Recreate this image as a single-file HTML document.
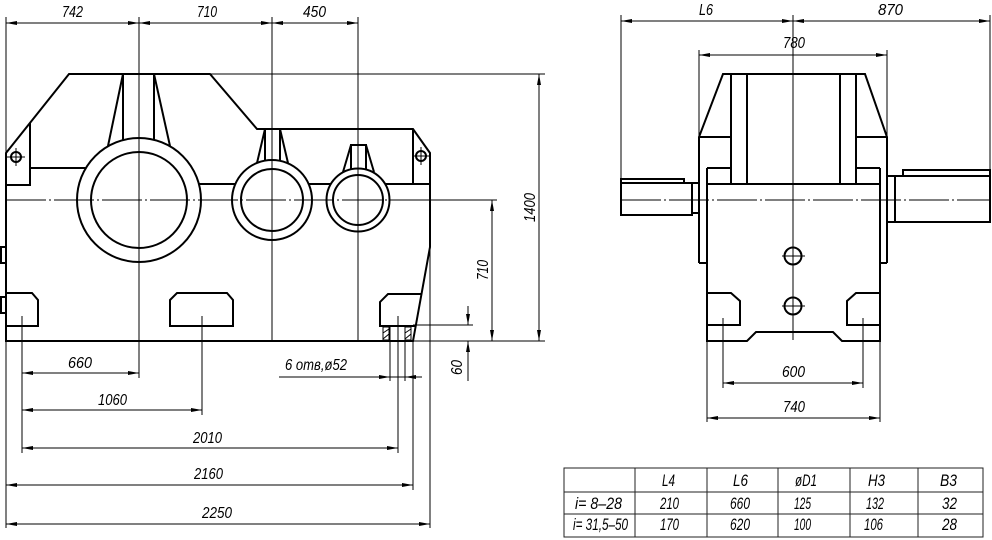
<!DOCTYPE html>
<html><head><meta charset="utf-8"><style>
html,body{margin:0;padding:0;background:#fff;}
svg{display:block;}
text{font-family:"Liberation Sans",sans-serif;font-style:italic;font-size:16px;fill:#000;}
.tb text{font-size:17px;}
</style></head><body>
<svg width="992" height="540" viewBox="0 0 992 540" xmlns="http://www.w3.org/2000/svg">
<defs>
<marker id="a" viewBox="0 0 11 4" refX="11" refY="2" markerWidth="11" markerHeight="4" markerUnits="userSpaceOnUse" orient="auto-start-reverse"><path d="M0,0 L11,2 L0,4 z" fill="#000"/></marker>
</defs>

<!-- ============ LEFT VIEW: thick ============ -->
<g fill="none" stroke="#000" stroke-width="2" stroke-linejoin="miter">
  <path d="M6,153 L69,74 L210,74 L257,129 L413,129 L430,153 L430,247 L413,341 L6,341 Z"/>
  <polyline points="30,123 30,185 6,185"/>
  <line x1="30" y1="168" x2="86" y2="168"/>
  <line x1="413" y1="129" x2="413" y2="184"/>
  <line x1="199" y1="184" x2="235" y2="184"/>
  <line x1="309" y1="184" x2="331" y2="184"/>
  <line x1="385" y1="184" x2="430" y2="184"/>
  <circle cx="139" cy="200" r="62"/>
  <circle cx="139" cy="200" r="48"/>
  <circle cx="272" cy="200" r="40"/>
  <circle cx="272" cy="200" r="31"/>
  <circle cx="358" cy="200" r="31.5"/>
  <circle cx="358" cy="200" r="25"/>
  <line x1="123" y1="74" x2="123" y2="140"/>
  <line x1="154" y1="74" x2="154" y2="140"/>
  <line x1="123" y1="74" x2="108" y2="146"/>
  <line x1="154" y1="74" x2="170" y2="146"/>
  <line x1="265" y1="129" x2="265" y2="161"/>
  <line x1="280" y1="129" x2="280" y2="161"/>
  <line x1="265" y1="129" x2="257" y2="163"/>
  <line x1="280" y1="129" x2="288" y2="163"/>
  <line x1="350" y1="145" x2="367" y2="145"/>
  <line x1="351" y1="145" x2="351" y2="170"/>
  <line x1="366" y1="145" x2="366" y2="170"/>
  <line x1="351" y1="145" x2="343" y2="172"/>
  <line x1="366" y1="145" x2="374" y2="172"/>
  <circle cx="16" cy="157" r="5"/>
  <circle cx="421" cy="156" r="5"/>
  <rect x="1" y="247" width="5" height="16"/>
  <rect x="1" y="297" width="5" height="16"/>
  <polyline points="6,293 32,293 38,300 38,326 6,326"/>
  <polygon points="170,300 177,293 227,293 233,300 233,326 170,326"/>
  <polyline points="421,294 388,294 380,302 380,326 415,326"/>
</g>

<g fill="none" stroke="#000" stroke-width="1">
  <rect x="383" y="327" width="6" height="13"/>
  <rect x="405" y="327" width="6" height="13"/>
  <line x1="383" y1="333" x2="389" y2="329"/>
  <line x1="383" y1="339" x2="389" y2="334"/>
  <line x1="405" y1="333" x2="411" y2="329"/>
  <line x1="405" y1="339" x2="411" y2="334"/>
</g>

<!-- ============ LEFT VIEW: thin ============ -->
<g fill="none" stroke="#000" stroke-width="1">
  <line x1="6" y1="17" x2="6" y2="153"/>
  <line x1="6" y1="341" x2="6" y2="528"/>
  <line x1="139" y1="17" x2="139" y2="378"/>
  <line x1="272" y1="17" x2="272" y2="341"/>
  <line x1="358" y1="17" x2="358" y2="341"/>
  <line x1="210" y1="74" x2="545" y2="74"/>
  <line x1="6" y1="200" x2="430" y2="200" stroke-dasharray="40 3 2 3"/>
  <line x1="430" y1="200" x2="497" y2="200"/>
  <line x1="413" y1="341" x2="545" y2="341"/>
  <line x1="413" y1="325" x2="473" y2="325"/>
  <line x1="22" y1="316" x2="22" y2="453"/>
  <line x1="202" y1="316" x2="202" y2="415"/>
  <line x1="398" y1="316" x2="398" y2="453"/>
  <line x1="390" y1="326" x2="390" y2="381"/>
  <line x1="405" y1="326" x2="405" y2="381"/>
  <line x1="413" y1="341" x2="413" y2="490"/>
  <line x1="430" y1="247" x2="430" y2="528"/>
  <line x1="7" y1="157" x2="25" y2="157"/>
  <line x1="16" y1="148" x2="16" y2="166"/>
  <line x1="412" y1="156" x2="430" y2="156"/>
  <line x1="421" y1="147" x2="421" y2="165"/>
  <line x1="6" y1="23" x2="139" y2="23" marker-start="url(#a)" marker-end="url(#a)"/>
  <line x1="139" y1="23" x2="272" y2="23" marker-start="url(#a)" marker-end="url(#a)"/>
  <line x1="272" y1="23" x2="358" y2="23" marker-start="url(#a)" marker-end="url(#a)"/>
  <line x1="539" y1="74" x2="539" y2="341" marker-start="url(#a)" marker-end="url(#a)"/>
  <line x1="492" y1="200" x2="492" y2="341" marker-start="url(#a)" marker-end="url(#a)"/>
  <line x1="468" y1="306" x2="468" y2="325" marker-end="url(#a)"/>
  <line x1="468" y1="381" x2="468" y2="341" marker-end="url(#a)"/>
  <line x1="22" y1="373" x2="139" y2="373" marker-start="url(#a)" marker-end="url(#a)"/>
  <line x1="22" y1="410" x2="202" y2="410" marker-start="url(#a)" marker-end="url(#a)"/>
  <line x1="22" y1="448" x2="398" y2="448" marker-start="url(#a)" marker-end="url(#a)"/>
  <line x1="6" y1="485" x2="413" y2="485" marker-start="url(#a)" marker-end="url(#a)"/>
  <line x1="6" y1="524" x2="430" y2="524" marker-start="url(#a)" marker-end="url(#a)"/>
  <line x1="279" y1="377" x2="390" y2="377" marker-end="url(#a)"/>
  <line x1="390" y1="377" x2="405" y2="377"/>
  <line x1="422" y1="377" x2="405" y2="377" marker-end="url(#a)"/>
</g>

<!-- ============ RIGHT VIEW: thick ============ -->
<g fill="none" stroke="#000" stroke-width="2">
  <polyline points="699,263 699,137 723,74 865,74 887,137 887,263"/>
  <line x1="699" y1="263" x2="707" y2="263"/>
  <line x1="887" y1="263" x2="880" y2="263"/>
  <line x1="699" y1="137" x2="731" y2="137"/>
  <line x1="856" y1="137" x2="887" y2="137"/>
  <line x1="731" y1="74" x2="731" y2="184"/>
  <line x1="747" y1="74" x2="747" y2="184"/>
  <line x1="840" y1="74" x2="840" y2="184"/>
  <line x1="856" y1="74" x2="856" y2="184"/>
  <line x1="707" y1="168" x2="731" y2="168"/>
  <line x1="856" y1="168" x2="880" y2="168"/>
  <line x1="707" y1="184" x2="880" y2="184"/>
  <polyline points="707,168 707,341 747,341 756,332 833,332 842,341 880,341 880,168"/>
  <rect x="621" y="183" width="71" height="32"/>
  <polyline points="621,183 621,179 684,179 684,183"/>
  <rect x="692" y="183" width="7" height="30"/>
  <rect x="887" y="176" width="8" height="46"/>
  <rect x="895" y="176" width="95" height="46"/>
  <polyline points="903,176 903,170 990,170 990,176"/>
  <circle cx="793" cy="256" r="8.5"/>
  <circle cx="793" cy="306" r="8.5"/>
  <polyline points="707,293 731,293 740,301 740,325 707,325"/>
  <polyline points="880,293 856,293 847,301 847,325 880,325"/>
</g>

<!-- ============ RIGHT VIEW: thin ============ -->
<g fill="none" stroke="#000" stroke-width="1">
  <line x1="621" y1="15" x2="621" y2="179"/>
  <line x1="990" y1="15" x2="990" y2="170"/>
  <line x1="793" y1="15" x2="793" y2="340"/>
  <line x1="699" y1="50" x2="699" y2="137"/>
  <line x1="887" y1="50" x2="887" y2="137"/>
  <line x1="621" y1="200" x2="990" y2="200" stroke-dasharray="40 3 2 3"/>
  <line x1="723" y1="318" x2="723" y2="388"/>
  <line x1="863" y1="318" x2="863" y2="388"/>
  <line x1="707" y1="341" x2="707" y2="422"/>
  <line x1="880" y1="341" x2="880" y2="422"/>
  <line x1="782" y1="256" x2="805" y2="256"/>
  <line x1="782" y1="306" x2="805" y2="306"/>
  <line x1="621" y1="21" x2="793" y2="21" marker-start="url(#a)" marker-end="url(#a)"/>
  <line x1="793" y1="21" x2="990" y2="21" marker-start="url(#a)" marker-end="url(#a)"/>
  <line x1="699" y1="55" x2="887" y2="55" marker-start="url(#a)" marker-end="url(#a)"/>
  <line x1="723" y1="383" x2="863" y2="383" marker-start="url(#a)" marker-end="url(#a)"/>
  <line x1="707" y1="418" x2="880" y2="418" marker-start="url(#a)" marker-end="url(#a)"/>
</g>

<!-- ============ LABELS ============ -->
<g>
  <text x="62" y="17" textLength="21" lengthAdjust="spacingAndGlyphs">742</text>
  <text x="197" y="17" textLength="20" lengthAdjust="spacingAndGlyphs">710</text>
  <text x="303" y="17" textLength="23" lengthAdjust="spacingAndGlyphs">450</text>
  <text transform="translate(535,222) rotate(-90)" x="0" y="0" textLength="29" lengthAdjust="spacingAndGlyphs">1400</text>
  <text transform="translate(488,280) rotate(-90)" x="0" y="0" textLength="20" lengthAdjust="spacingAndGlyphs">710</text>
  <text transform="translate(462,375) rotate(-90)" x="0" y="0" textLength="15" lengthAdjust="spacingAndGlyphs">60</text>
  <text x="285" y="370" textLength="62" lengthAdjust="spacingAndGlyphs">6 отв,ø52</text>
  <text x="68" y="368" textLength="24" lengthAdjust="spacingAndGlyphs">660</text>
  <text x="98" y="405" textLength="29" lengthAdjust="spacingAndGlyphs">1060</text>
  <text x="193" y="443" textLength="29" lengthAdjust="spacingAndGlyphs">2010</text>
  <text x="194" y="479" textLength="29" lengthAdjust="spacingAndGlyphs">2160</text>
  <text x="202" y="518" textLength="30" lengthAdjust="spacingAndGlyphs">2250</text>
  <text x="699" y="15" textLength="14" lengthAdjust="spacingAndGlyphs">L6</text>
  <text x="878" y="15" textLength="25" lengthAdjust="spacingAndGlyphs">870</text>
  <text x="783" y="48" textLength="22" lengthAdjust="spacingAndGlyphs">780</text>
  <text x="782" y="377" textLength="23" lengthAdjust="spacingAndGlyphs">600</text>
  <text x="783" y="412" textLength="22" lengthAdjust="spacingAndGlyphs">740</text>
</g>

<!-- ============ TABLE ============ -->
<g fill="none" stroke="#222" stroke-width="1">
  <rect x="564" y="468" width="419" height="69"/>
  <line x1="564" y1="492" x2="983" y2="492"/>
  <line x1="564" y1="514" x2="983" y2="514"/>
  <line x1="635" y1="468" x2="635" y2="537"/>
  <line x1="707" y1="468" x2="707" y2="537"/>
  <line x1="778" y1="468" x2="778" y2="537"/>
  <line x1="850" y1="468" x2="850" y2="537"/>
  <line x1="918" y1="468" x2="918" y2="537"/>
</g>
<g class="tb">
  <text x="662" y="486" textLength="13" lengthAdjust="spacingAndGlyphs">L4</text>
  <text x="733" y="486" textLength="15" lengthAdjust="spacingAndGlyphs">L6</text>
  <text x="795" y="486" textLength="22" lengthAdjust="spacingAndGlyphs">øD1</text>
  <text x="868" y="486" textLength="17" lengthAdjust="spacingAndGlyphs">H3</text>
  <text x="940" y="486" textLength="17" lengthAdjust="spacingAndGlyphs">B3</text>

  <text x="575" y="509" textLength="47" lengthAdjust="spacingAndGlyphs">i= 8–28</text>
  <text x="660" y="509" textLength="19" lengthAdjust="spacingAndGlyphs">210</text>
  <text x="730" y="509" textLength="20" lengthAdjust="spacingAndGlyphs">660</text>
  <text x="794" y="509" textLength="17" lengthAdjust="spacingAndGlyphs">125</text>
  <text x="866" y="509" textLength="18" lengthAdjust="spacingAndGlyphs">132</text>
  <text x="942" y="509" textLength="15" lengthAdjust="spacingAndGlyphs">32</text>

  <text x="573" y="530" textLength="55" lengthAdjust="spacingAndGlyphs">i= 31,5–50</text>
  <text x="660" y="530" textLength="19" lengthAdjust="spacingAndGlyphs">170</text>
  <text x="730" y="530" textLength="20" lengthAdjust="spacingAndGlyphs">620</text>
  <text x="794" y="530" textLength="17" lengthAdjust="spacingAndGlyphs">100</text>
  <text x="864" y="530" textLength="19" lengthAdjust="spacingAndGlyphs">106</text>
  <text x="942" y="530" textLength="15" lengthAdjust="spacingAndGlyphs">28</text>
</g>
</svg>
</body></html>
